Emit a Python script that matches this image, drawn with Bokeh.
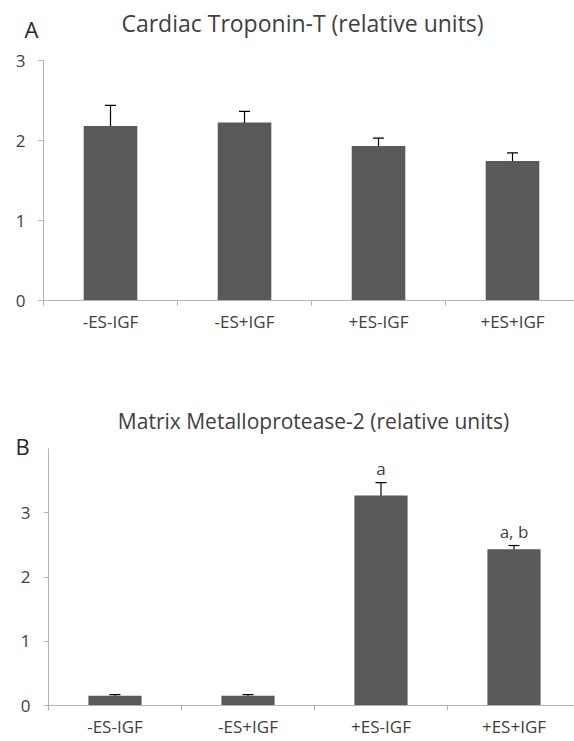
from bokeh.plotting import figure
from bokeh.models import Range1d, FixedTicker, Whisker, TeeHead, ColumnDataSource
from bokeh.layouts import column
from bokeh.embed import file_html
from bokeh.resources import INLINE
from bokeh.core.properties import value

categories = ["-ES-IGF", "-ES+IGF", "+ES-IGF", "+ES+IGF"]
tnt_values = [2.18, 2.225, 1.93, 1.745]
tnt_errors = [0.26, 0.14, 0.10, 0.10]
mmp_values = [0.15, 0.15, 3.27, 2.43]
mmp_errors = [0.02, 0.02, 0.20, 0.06]
mmp_marks = ["", "", "a", "a, b"]
tnt_title = "Cardiac Troponin-T (relative units)"
mmp_title = "Matrix Metalloprotease-2 (relative units)"
yticks_a = [0, 1, 2, 3]
yticks_b = [0, 1, 2, 3]

FONT = "Open Sans"
BAR = "#595959"
AXIS = "#b3b3b3"
TXT = "#404040"
W = 574


def panel(letter, title, vals, errs, marks, yticks, ymax, h,
          axis_x, zero_y, px_cat, px_unit, title_px, title_size, letter_px):
    """axis_x / zero_y: canvas pixel of data origin; px_cat / px_unit: scale."""
    xs = [i + 0.5 for i in range(len(categories))]
    n = len(categories)
    x0 = -axis_x / px_cat
    x1 = (W - axis_x) / px_cat
    y0 = -(h - zero_y) / px_unit
    y1 = zero_y / px_unit

    def dx(px):
        return (px - axis_x) / px_cat

    def dy(py):
        return (zero_y - py) / px_unit

    src = ColumnDataSource(dict(
        x=xs, top=vals,
        upper=[v + e for v, e in zip(vals, errs)],
        lower=[v - e for v, e in zip(vals, errs)],
    ))
    p = figure(width=W, height=h, output_backend="svg", toolbar_location=None,
               x_range=Range1d(x0, x1), y_range=Range1d(y0, y1),
               min_border_left=0, min_border_right=0,
               min_border_top=0, min_border_bottom=0)
    p.outline_line_color = None
    p.grid.visible = False
    p.background_fill_color = "white"
    p.border_fill_color = "white"

    p.vbar(x="x", top="top", width=0.4, bottom=0, source=src,
           fill_color=BAR, line_color=None)
    w = Whisker(base="x", upper="upper", lower="lower", source=src,
                line_color="black", line_width=1.2,
                upper_head=TeeHead(size=11, line_color="black", line_width=1.2),
                lower_head=TeeHead(size=11, line_color="black", line_width=1.2))
    p.add_layout(w)

    xa = p.xaxis[0]
    xa.fixed_location = 0
    xa.bounds = (0, x1)
    xa.ticker = FixedTicker(ticks=xs, minor_ticks=list(range(n)))
    xa.major_label_overrides = {x: c for x, c in zip(xs, categories)}
    xa.major_tick_out = 0
    xa.major_tick_in = 0
    xa.minor_tick_out = 5
    xa.minor_tick_in = 0
    xa.minor_tick_line_color = AXIS
    xa.axis_line_color = AXIS
    xa.major_label_text_font = FONT
    xa.major_label_text_font_size = "17px"
    xa.major_label_text_color = TXT
    xa.major_label_standoff = 4

    ya = p.yaxis[0]
    ya.fixed_location = 0
    ya.bounds = (0, ymax)
    ya.ticker = FixedTicker(ticks=yticks, minor_ticks=[])
    ya.major_tick_out = 5
    ya.major_tick_in = 0
    ya.major_tick_line_color = AXIS
    ya.axis_line_color = AXIS
    ya.major_label_text_font = FONT
    ya.major_label_text_font_size = "17px"
    ya.major_label_text_color = TXT
    ya.major_label_standoff = 13

    p.text(x=[dx(title_px[0])], y=[dy(title_px[1])], text=[title],
           text_font=value(FONT), text_font_size=title_size, text_color=TXT,
           text_align="center", text_baseline="middle")
    p.text(x=[dx(letter_px[0])], y=[dy(letter_px[1])], text=[letter],
           text_font=value(FONT), text_font_size="22px", text_color="#262626",
           text_align="center", text_baseline="middle")

    mx, my, mt = [], [], []
    for x, v, e, m in zip(xs, vals, errs, marks):
        if m:
            mx.append(x)
            my.append(v + e + 14 / px_unit)
            mt.append(m)
    if mt:
        p.text(x=mx, y=my, text=mt, text_font=value(FONT), text_font_size="17px",
               text_color=TXT, text_align="center", text_baseline="middle")
    return p


pa = panel("A", tnt_title, tnt_values, tnt_errors, ["", "", "", ""], yticks_a, 3,
           h=370, axis_x=43, zero_y=300, px_cat=134.0, px_unit=80.0,
           title_px=(302, 22), title_size="23px", letter_px=(31, 28))

pb = panel("B", mmp_title, mmp_values, mmp_errors, mmp_marks, yticks_b, 4,
           h=371, axis_x=48, zero_y=705 - 370, px_cat=133.0, px_unit=64.25,
           title_px=(313, 420 - 370), title_size="21px", letter_px=(22, 445 - 370))

layout = column(pa, pb, spacing=0)
open("out.html", "w").write(file_html(layout, INLINE))
